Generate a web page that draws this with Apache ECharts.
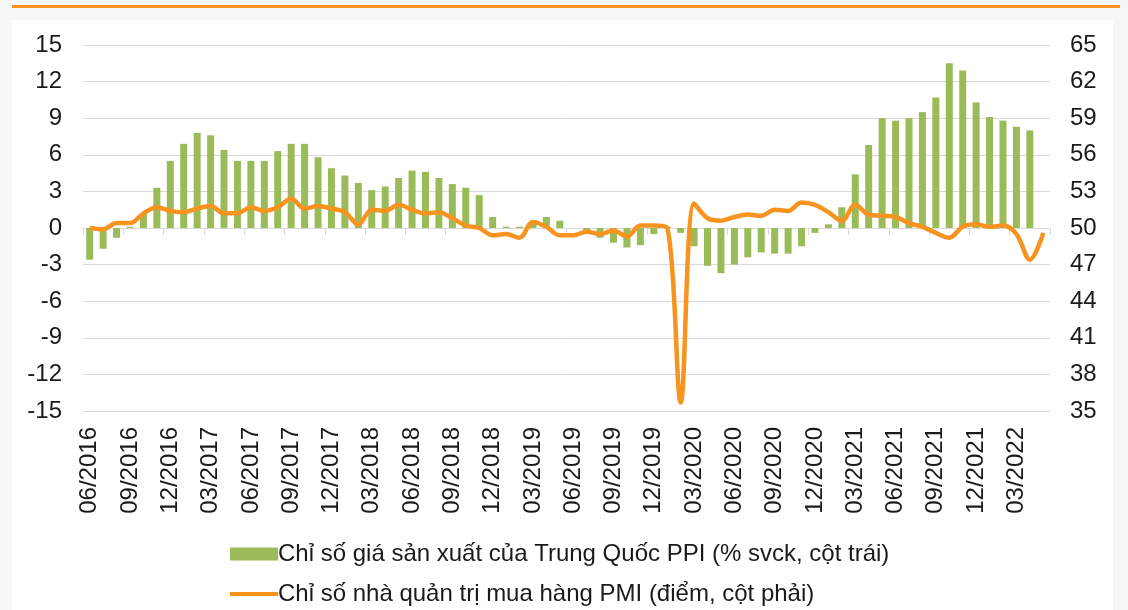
<!DOCTYPE html>
<html>
<head>
<meta charset="utf-8">
<script src="https://cdn.jsdelivr.net/npm/echarts@6/dist/echarts.min.js"></script>
<style>
  html, body { margin: 0; padding: 0; background: #f7f7f7; }
  .panel { position: absolute; left: 12px; top: 20px; width: 1101px; height: 590px; background: #fff; }
  .topline { position: absolute; left: 12px; top: 5px; width: 1108px; height: 3px; background: #f7931e; }
  #chart { position: absolute; left: 0; top: 0; width: 1128px; height: 610px; }
</style>
</head>
<body>
<div class="topline"></div>
<div class="panel"></div>
<div id="chart"></div>
<script>
// months 06/2016 .. 05/2022
var months = [
  '06/2016','07/2016','08/2016','09/2016','10/2016','11/2016','12/2016',
  '01/2017','02/2017','03/2017','04/2017','05/2017','06/2017','07/2017','08/2017','09/2017','10/2017','11/2017','12/2017',
  '01/2018','02/2018','03/2018','04/2018','05/2018','06/2018','07/2018','08/2018','09/2018','10/2018','11/2018','12/2018',
  '01/2019','02/2019','03/2019','04/2019','05/2019','06/2019','07/2019','08/2019','09/2019','10/2019','11/2019','12/2019',
  '01/2020','02/2020','03/2020','04/2020','05/2020','06/2020','07/2020','08/2020','09/2020','10/2020','11/2020','12/2020',
  '01/2021','02/2021','03/2021','04/2021','05/2021','06/2021','07/2021','08/2021','09/2021','10/2021','11/2021','12/2021',
  '01/2022','02/2022','03/2022','04/2022','05/2022'
];

// PPI, % yoy (left axis)
var ppi = [
  -2.6, -1.7, -0.8, 0.1, 1.2, 3.3, 5.5,
  6.9, 7.8, 7.6, 6.4, 5.5, 5.5, 5.5, 6.3, 6.9, 6.9, 5.8, 4.9,
  4.3, 3.7, 3.1, 3.4, 4.1, 4.7, 4.6, 4.1, 3.6, 3.3, 2.7, 0.9,
  0.1, 0.1, 0.4, 0.9, 0.6, 0.0, -0.3, -0.8, -1.2, -1.6, -1.4, -0.5,
  0.1, -0.4, -1.5, -3.1, -3.7, -3.0, -2.4, -2.0, -2.1, -2.1, -1.5, -0.4,
  0.3, 1.7, 4.4, 6.8, 9.0, 8.8, 9.0, 9.5, 10.7, 13.5, 12.9, 10.3,
  9.1, 8.8, 8.3, 8.0
];

// PMI, points (right axis)
var pmi = [
  50.0, 49.9, 50.4, 50.4, 51.2, 51.7, 51.4,
  51.3, 51.6, 51.8, 51.2, 51.2, 51.7, 51.4, 51.7, 52.4, 51.6, 51.8, 51.6,
  51.3, 50.3, 51.5, 51.4, 51.9, 51.5, 51.2, 51.3, 50.8, 50.2, 50.0, 49.4,
  49.5, 49.2, 50.5, 50.1, 49.4, 49.4, 49.7, 49.5, 49.8, 49.3, 50.2, 50.2,
  50.0, 35.7, 52.0, 50.8, 50.6, 50.9, 51.1, 51.0, 51.5, 51.4, 52.1, 51.9,
  51.3, 50.6, 51.9, 51.1, 51.0, 50.9, 50.4, 50.1, 49.6, 49.2, 50.1, 50.3,
  50.1, 50.2, 49.5, 47.4, 49.6
];

var ppiName = 'Chỉ số giá sản xuất của Trung Quốc PPI (% svck, cột trái)';
var pmiName = 'Chỉ số nhà quản trị mua hàng PMI (điểm, cột phải)';

var font = '"Liberation Sans", Arial, sans-serif';
var txt = '#1a1a1a';
var gridGrey = '#d9d9d9';
var green = '#9bbb59';
var orange = '#f7931e';

var legendText = { fontFamily: font, fontSize: 24, color: txt, padding: [0, 0, 0, -5] };

var chart = echarts.init(document.getElementById('chart'));
chart.setOption({
  animation: false,
  textStyle: { fontFamily: font },
  grid: { left: 83, right: 78, top: 45, bottom: 199 },
  legend: [{
    left: 225,
    top: 537,
    itemWidth: 48,
    itemHeight: 13,
    textStyle: legendText,
    data: [{ name: ppiName, icon: 'rect' }]
  }, {
    left: 225,
    top: 577,
    itemWidth: 48,
    itemHeight: 4,
    textStyle: legendText,
    data: [{ name: pmiName, icon: 'rect', itemStyle: { color: orange } }]
  }],
  xAxis: [{
    type: 'category',
    data: months,
    position: 'bottom',
    axisLine: { show: false, onZero: false },
    axisTick: { show: false },
    axisLabel: { interval: 2, rotate: 90, margin: 16, fontSize: 24, color: txt, fontFamily: font }
  }, {
    type: 'category',
    data: months,
    position: 'top',
    axisLine: { show: true, onZero: true, onZeroAxisIndex: 0, lineStyle: { color: gridGrey, width: 1 } },
    axisTick: { show: true, interval: 2, inside: true, length: 7, lineStyle: { color: gridGrey } },
    axisLabel: { show: false }
  }],
  yAxis: [{
    type: 'value',
    min: -15, max: 15, interval: 3,
    axisLine: { show: false },
    axisTick: { show: false },
    axisLabel: { margin: 21, fontSize: 24, color: txt, fontFamily: font },
    splitLine: { lineStyle: { color: gridGrey, width: 1 } }
  }, {
    type: 'value',
    min: 35, max: 65, interval: 3,
    axisLine: { show: false },
    axisTick: { show: false },
    axisLabel: { margin: 20, fontSize: 24, color: txt, fontFamily: font },
    splitLine: { show: false }
  }],
  series: [{
    name: ppiName,
    type: 'bar',
    xAxisIndex: 0,
    yAxisIndex: 0,
    barWidth: 7,
    itemStyle: { color: green },
    data: ppi
  }, {
    name: pmiName,
    type: 'line',
    xAxisIndex: 0,
    yAxisIndex: 1,
    smooth: 0.35,
    symbol: 'none',
    lineStyle: { color: orange, width: 4.5 },
    itemStyle: { color: orange },
    data: pmi
  }]
});
</script>
</body>
</html>
